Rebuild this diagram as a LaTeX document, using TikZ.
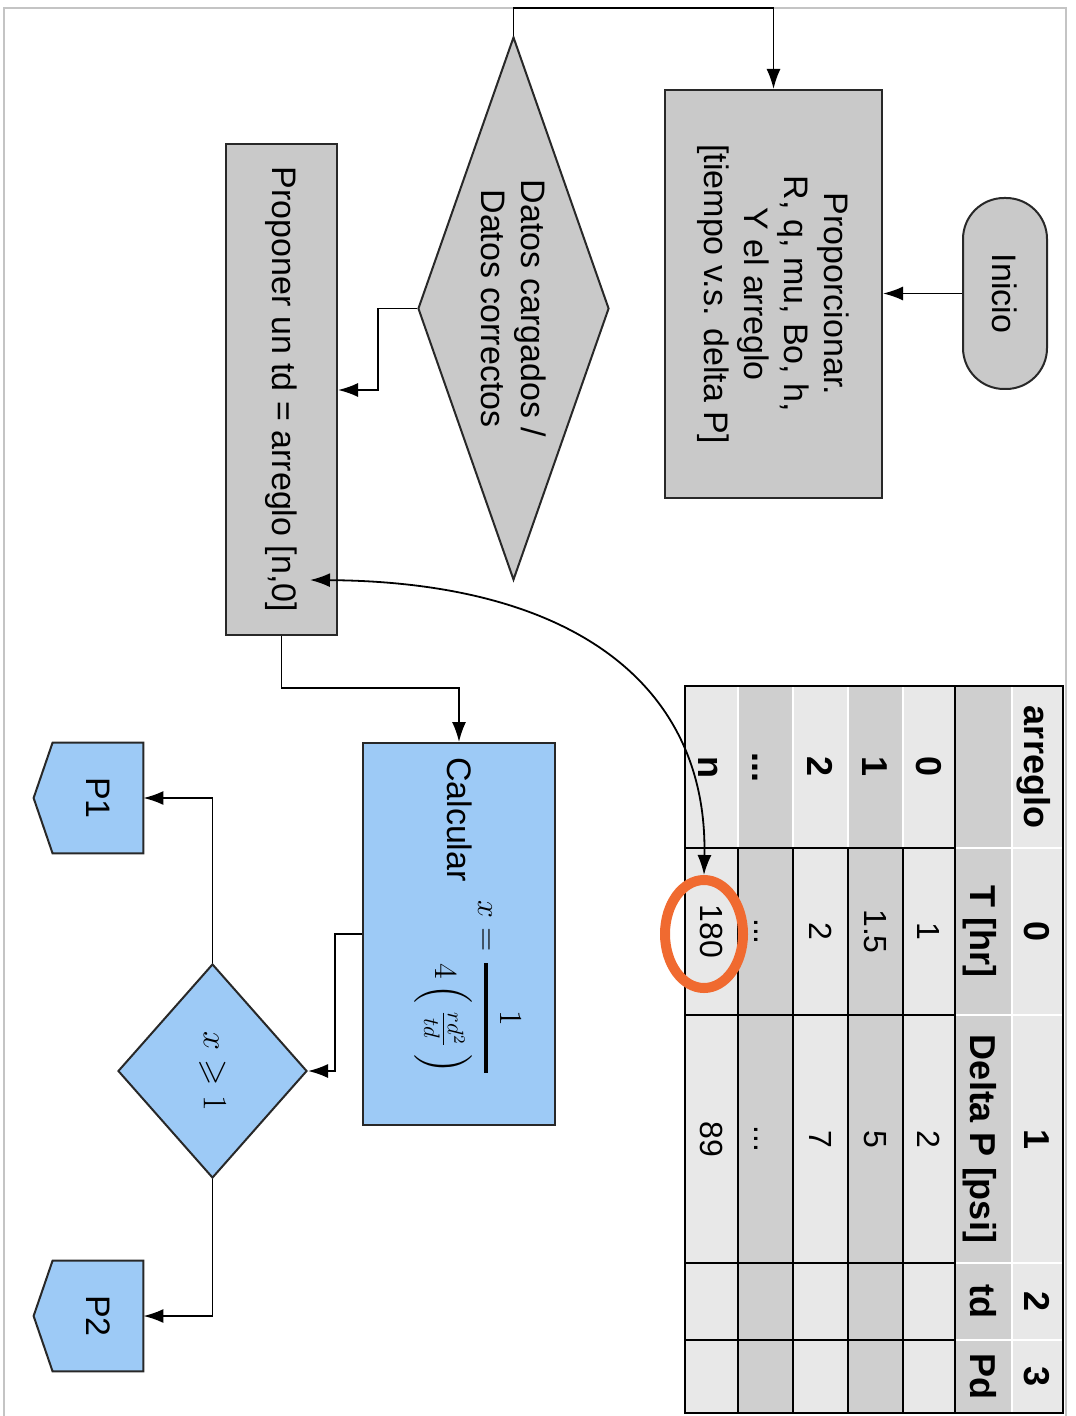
\RequirePackage{fix-cm}
\documentclass[tikz,border=0pt]{standalone}
\usepackage{amsmath,amssymb}
\usepackage[no-math]{fontspec}
\setmainfont{Liberation Sans}
\usetikzlibrary{arrows.meta,shapes.geometric,calc}
\definecolor{boxgray}{RGB}{201,201,201}
\definecolor{boxline}{RGB}{40,40,40}
\definecolor{boxblue}{RGB}{157,202,246}
\definecolor{framegray}{RGB}{196,196,196}
\definecolor{celllight}{RGB}{232,232,232}
\definecolor{celldark}{RGB}{207,207,207}
\definecolor{ringorange}{RGB}{240,106,48}
\pgfdeclarelayer{bg}
\pgfsetlayers{bg,main}
\newcommand\tabbold{\fontsize{18}{20}\selectfont\bfseries}
\newcommand\tabnorm{\fontsize{16}{19}\selectfont}
\newcommand\tdots{...}
\begin{document}
\begin{tikzpicture}[x=0.5pt,y=-0.5pt,
  every node/.style={rotate=-90, font=\fontsize{17}{20}\selectfont, inner sep=0pt},
  gbox/.style={draw=boxline, fill=boxgray, line width=1pt, align=center},
  bbox/.style={draw=boxline, fill=boxblue, line width=1pt},
  conn/.style={draw=black, line width=0.9pt, -{Latex[length=10pt,width=7pt]}},
  hcell/.style={font=\tabbold, text height=13pt, text depth=0pt},
  dcell/.style={font=\tabnorm, text height=11.5pt, text depth=0pt},
  offpage/.style={draw=boxline, fill=boxblue, line width=1pt}
]
\path[use as bounding box] (0,0) rectangle (1075,1416);
% frame
\draw[framegray, line width=1pt] (4,1416) -- (4,8) -- (1066,8) -- (1066,1416);

% ---------------- table ----------------
\fill[celllight] (1012,686) rectangle (1063,1413);
\fill[celldark] (955,686) rectangle (1012,1413);
\foreach \a/\b/\c in {903/955/celllight, 848/903/celldark, 793/848/celllight, 738/793/celldark, 685/738/celllight}
  \fill[\c] (\a,686) rectangle (\b,1413);
\draw[white, line width=1pt] (1012,686) -- (1012,1413);
\foreach \yy in {848,1015,1263,1340} \draw[white, line width=1pt] (955,\yy) -- (1063,\yy);
\foreach \xx in {738,793,848,903} \draw[white, line width=1pt] (\xx,686) -- (\xx,848);
\foreach \xx in {738,793,848,903} \draw[black, line width=1pt] (\xx,848) -- (\xx,1413);
\foreach \yy in {848,1015,1263,1340} \draw[black, line width=1pt] (685,\yy) -- (955,\yy);
\draw[black, line width=1.4pt] (955,686) -- (955,1413);
\draw[black, line width=1pt] (685,686) rectangle (1063,1413);

\foreach \t/\yy [count=\i] in {arreglo/767, 0/931.5, 1/1139, 2/1301.5, 3/1376.5}
  \node[hcell] (ix\i) at (1037.5,\yy) {\t};
\foreach \t/\yy [count=\i] in {T [hr]/931.5, Delta P [psi]/1139, td/1301.5, Pd/1376.5}
  \node[hcell] (hd\i) at (983.5,\yy) {\t};
\foreach \t/\xx [count=\i] in {0/929, 1/875.5, 2/820.5, \tdots/765.5, n/711.5}
  \node[hcell] (rl\i) at (\xx,767) {\t};
\foreach \t/\xx [count=\i] in {1/929, 1.5/875.5, 2/820.5, \tdots/765.5}
  \node[dcell] (ca\i) at (\xx,931.5) {\t};
\node[dcell] (t180) at (711.5,931.5) {180};
\foreach \t/\xx [count=\i] in {2/929, 5/875.5, 7/820.5, \tdots/765.5, 89/711.5}
  \node[dcell] (cb\i) at (\xx,1139) {\t};
\node[draw=ringorange, line width=5pt, ellipse, minimum width=54pt, minimum height=39pt] (ring) at (704,934) {};

% ---------------- flowchart ----------------
\node[gbox, minimum width=95.5pt, minimum height=42pt, rounded corners=20.5pt] (ini) at (1005,293.5) {Inicio};
\node[gbox, minimum width=204pt, minimum height=108.5pt] (prop) at (773.5,294)
  {Proporcionar.\\R, q, mu, Bo, h,\\Y el arreglo\\{[tiempo v.s. delta P]}};
\node[gbox, diamond, aspect=2.84, minimum width=271.5pt, minimum height=95.5pt] (dat) at (513.5,308.5)
  {Datos cargados /\\Datos correctos};
\node[gbox, minimum width=245.5pt, minimum height=55.5pt] (pro) at (281.5,389.5)
  {Proponer un td = arreglo [n,0]};
\node[bbox, minimum width=191pt, minimum height=96pt, text width=177pt, inner xsep=7pt, align=left,
      text height=30pt, text depth=18pt] (calc) at (459,934)
  {Calcular\hspace{9.5pt}\raisebox{15.5pt}{\fontsize{16}{19}\selectfont$x=\genfrac{}{}{2pt}{0}{1}{4\left(\mkern4mu\frac{rd^{2}}{td}\mkern4mu\right)}$}};
\node[bbox, diamond, aspect=1.13, minimum width=107pt, minimum height=94.5pt] (cmp) at (212.5,1071)
  {$x\geqslant1$};
\node[minimum width=55pt, minimum height=45pt] (pa) at (98,798) {P1};
\node[minimum width=55pt, minimum height=45pt] (pb) at (98,1316) {P2};
\begin{pgfonlayer}{bg}
  \path[offpage] (pa.north west) -- (pa.north east) -- (pa.south east) -- ($(pa.south)+(-19,0)$) -- (pa.south west) -- cycle;
  \path[offpage] (pb.north west) -- (pb.north east) -- (pb.south east) -- ($(pb.south)+(-19,0)$) -- (pb.south west) -- cycle;
\end{pgfonlayer}

\coordinate (topY) at (0,8);
\coordinate (k1) at (378,390);
\coordinate (k2) at (0,688);
\coordinate (k3) at (335,1071);
\coordinate (c1) at (310,580);

\draw[conn] (ini.south) -- (prop.north |- ini.south);
\draw[conn] (dat.west) |- (prop.west |- topY) -- (prop.west);
\draw[conn] (dat.south) -| (k1) -- (k1 -| pro.north);
\draw[conn] (pro.east) |- (calc.west |- k2) -- (calc.west);
\draw[conn] (calc.south) -| (k3) -- (cmp.north);
\draw[conn] (cmp.west) |- (pa.north);
\draw[conn] (cmp.east) |- (pb.north);
\draw[line width=0.9pt, {Latex[length=10pt,width=7pt]}-{Latex[length=10pt,width=7pt]}]
  (c1) .. controls (580,582) and (708,690) .. (ring.west);
\end{tikzpicture}
\end{document}
